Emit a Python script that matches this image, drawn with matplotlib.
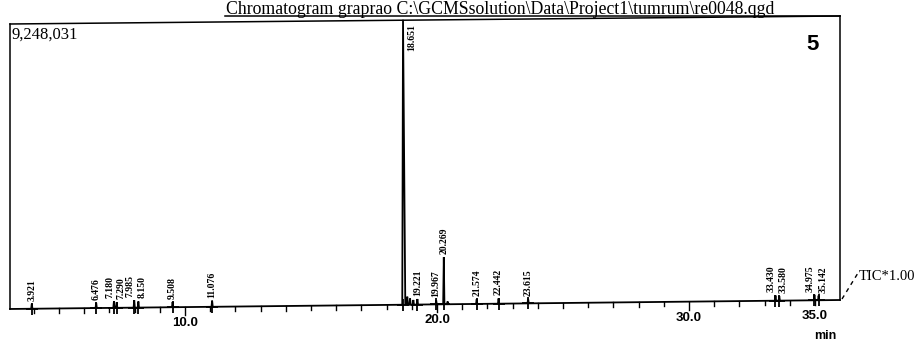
import numpy as np
import matplotlib
matplotlib.use('Agg')
import matplotlib.pyplot as plt
from matplotlib.lines import Line2D

# chromatogram data (retention time in min, intensity in counts)
full_scale = 9248031
peak_times = [3.921, 6.476, 7.180, 7.290, 7.985, 8.150, 9.508, 11.076,
              18.651, 19.221, 19.967, 20.269, 21.574, 22.442, 23.615,
              33.430, 33.580, 34.975, 35.142]
peak_heights = [160000, 170000, 210000, 180000, 240000, 200000, 170000, 200000,
                9248031, 180000, 130000, 1530000, 150000, 170000, 150000,
                170000, 150000, 180000, 150000]
peak_labels = ['3.921', '6.476', '7.180', '7.290', '7.985', '8.150', '9.508', '11.076',
               '18.651', '19.221', '19.967', '20.269', '21.574', '22.442', '23.615',
               '33.430', '33.580', '34.975', '35.142']
minor_times = [18.82, 18.93, 19.06, 20.42]
minor_heights = [260000, 200000, 150000, 90000]
drift_times = [3.0, 36.0]
drift_counts = [0, 292000]
tick_labels = {10: '10.0', 20: '20.0', 30: '30.0', 35: '35.0'}

W, H = 918, 344
fig = plt.figure(figsize=(W / 100, H / 100), dpi=100)
fig.patch.set_facecolor('white')


def px(x, y):
    return x / W, 1 - y / H


ax = fig.add_axes([10 / W, 1 - 309 / H, 830 / W, 293 / H])
ax.axis('off')
cpp = full_scale / 285.0  # counts per pixel
ax.set_xlim(3.056, 35.99)
ax.set_ylim(0, 293 * cpp)


def base(t):
    return np.interp(t, drift_times, drift_counts)


# build the trace
pts = [(s, h) for s, h in zip(peak_times, peak_heights)]
pts += [(s, h) for s, h in zip(minor_times, minor_heights)]
pts = sorted(pts)
tx, ty = [3.056], [base(3.056)]
for t, h in pts:
    wl, wr = (0.03, 0.09) if h > 5e6 else (0.025, 0.025)
    tx += [t - wl, t, t + wr]
    ty += [base(t - wl), base(t) + h, base(t + wr)]
tx.append(35.99)
ty.append(base(35.99))
ax.plot(tx, ty, color='black', lw=1.3, clip_on=False, solid_joinstyle='miter')

# peak markers and labels; labels of close neighbours are nudged apart
for i, (t, h, lab) in enumerate(zip(peak_times, peak_heights, peak_labels)):
    b = base(t)
    ax.plot([t], [b], marker='+', ms=9, mew=1.3, color='black', clip_on=False)
    if h > 5e6:
        ax.annotate(lab, (t, b + h), xytext=(9, -4), textcoords='offset pixels',
                    rotation=90, ha='center', va='top', fontsize=7,
                    family='Liberation Serif', weight='bold')
        continue
    dx = 0
    if i + 1 < len(peak_times) and peak_times[i + 1] - t < 0.2:
        dx = -4
    elif i > 0 and t - peak_times[i - 1] < 0.2:
        dx = 4
    ax.annotate(lab, (t, b + h), xytext=(dx, 3), textcoords='offset pixels',
                rotation=90, ha='center', va='bottom', fontsize=7,
                family='Liberation Serif', weight='bold')

# x ticks hanging from the baseline
for t in range(4, 36):
    b = base(t)
    length = 8 if t in (10, 20, 30) else 4.5
    ax.plot([t, t], [b, b - length * cpp], color='black', lw=1.0, clip_on=False)
    if t in tick_labels:
        ax.text(t, b - 10 * cpp, tick_labels[t], ha='center', va='top',
                fontsize=9.5, family='Liberation Sans', weight='bold')

# frame drawn as in the scan
frame = [((10, 24), (10, 309)), ((10, 24), (840, 16)), ((840, 16), (840, 300)),
         ((225, 16), (840, 16))]
for p0, p1 in frame:
    x0, y0 = px(*p0)
    x1, y1 = px(*p1)
    fig.add_artist(Line2D([x0, x1], [y0, y1], color='black', lw=1.1,
                          transform=fig.transFigure))
x0, y0 = px(842, 299)
x1, y1 = px(858, 273)
fig.add_artist(Line2D([x0, x1], [y0, y1], color='black', lw=1.0, ls=(0, (3, 3)),
                      transform=fig.transFigure))

fig.text(*px(500, 14), 'Chromatogram graprao C:\\GCMSsolution\\Data\\Project1\\tumrum\\re0048.qgd',
         ha='center', va='baseline', fontsize=12.8, family='Liberation Serif')
fig.text(*px(12, 27), '9,248,031', ha='left', va='top', fontsize=12,
         family='Liberation Serif')
fig.text(*px(813, 44), '5', ha='center', va='center', fontsize=16,
         family='Liberation Sans', weight='bold')
fig.text(*px(859, 276), 'TIC*1.00', ha='left', va='center', fontsize=10.5,
         family='Liberation Serif')
fig.text(*px(825, 336), 'min', ha='center', va='center', fontsize=9,
         family='Liberation Sans', weight='bold')

fig.savefig('out.png', dpi=100)
